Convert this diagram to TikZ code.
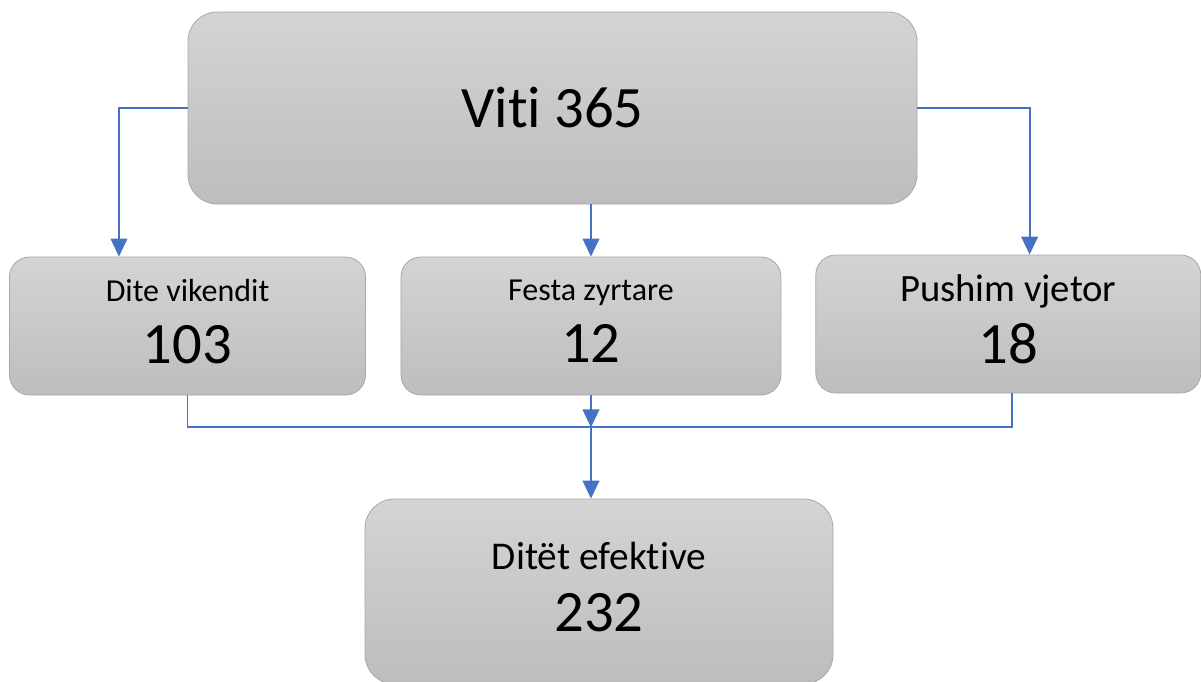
\documentclass[tikz,border=0pt]{standalone}
\usepackage{fontspec}
\setmainfont{Carlito}[Ligatures=NoCommon]
\usetikzlibrary{arrows.meta, positioning, calc}
\definecolor{boxtop}{HTML}{D4D4D4}
\definecolor{boxbot}{HTML}{BDBDBD}
\definecolor{boxline}{HTML}{A8A8A8}
\definecolor{linkblue}{HTML}{4472C4}

\begin{document}
\begin{tikzpicture}[
  x=0.75pt, y=-0.75pt,
  box/.style={rectangle, rounded corners=15pt, draw=boxline, line width=0.6pt,
              top color=boxtop, bottom color=boxbot, align=center, inner sep=0pt,
              minimum height=103.5pt, font=\fontsize{44}{46.5}\selectfont},
  pair/.style={box, text depth=7pt},
  ar/.style={-{Triangle[length=13.5pt, width=12.5pt]}, draw=linkblue, line width=1.4pt},
  ln/.style={draw=linkblue, line width=1.4pt}
]
\useasboundingbox (0,0) rectangle (1201,681);

\node[box, rounded corners=22pt, minimum width=546.75pt, minimum height=144pt] (viti)
  at (552.5,108) {Viti 365};

\node[pair, minimum width=267pt] (vik) at (187.5,326)
  {{\fontsize{24}{26}\selectfont Dite vikendit}\\103};
\node[pair, minimum width=285pt, right=26pt of vik] (fest)
  {{\fontsize{24}{26}\selectfont Festa zyrtare}\\12};
\node[pair, minimum width=288.75pt, right=25.5pt of fest, yshift=1.5pt] (pus)
  {{\fontsize{29}{31}\selectfont Pushim vjetor}\\18};

\node[pair, rounded corners=22pt, minimum width=351pt, minimum height=138.75pt] (eff)
  at (599,591.5) {{\fontsize{29.5}{31}\selectfont Ditët efektive}\\232};

% from the year down to the three groups
\draw[ar] (viti.west) -| ([xshift=-51.4pt]vik.north);
\draw[ar] (viti.south -| fest.north) -- (fest.north);
\draw[ar] (viti.east) -| ([xshift=16pt]pus.north);

% the three groups join into one line
\coordinate (join) at ($(fest.south)+(0,32)$);
\draw[ln] (vik.south) |- (join) -| ([xshift=3pt]pus.south);
\draw[ar] (fest.south) -- (join);
\draw[ar] (join) -- (join |- eff.north);

\end{tikzpicture}
\end{document}
